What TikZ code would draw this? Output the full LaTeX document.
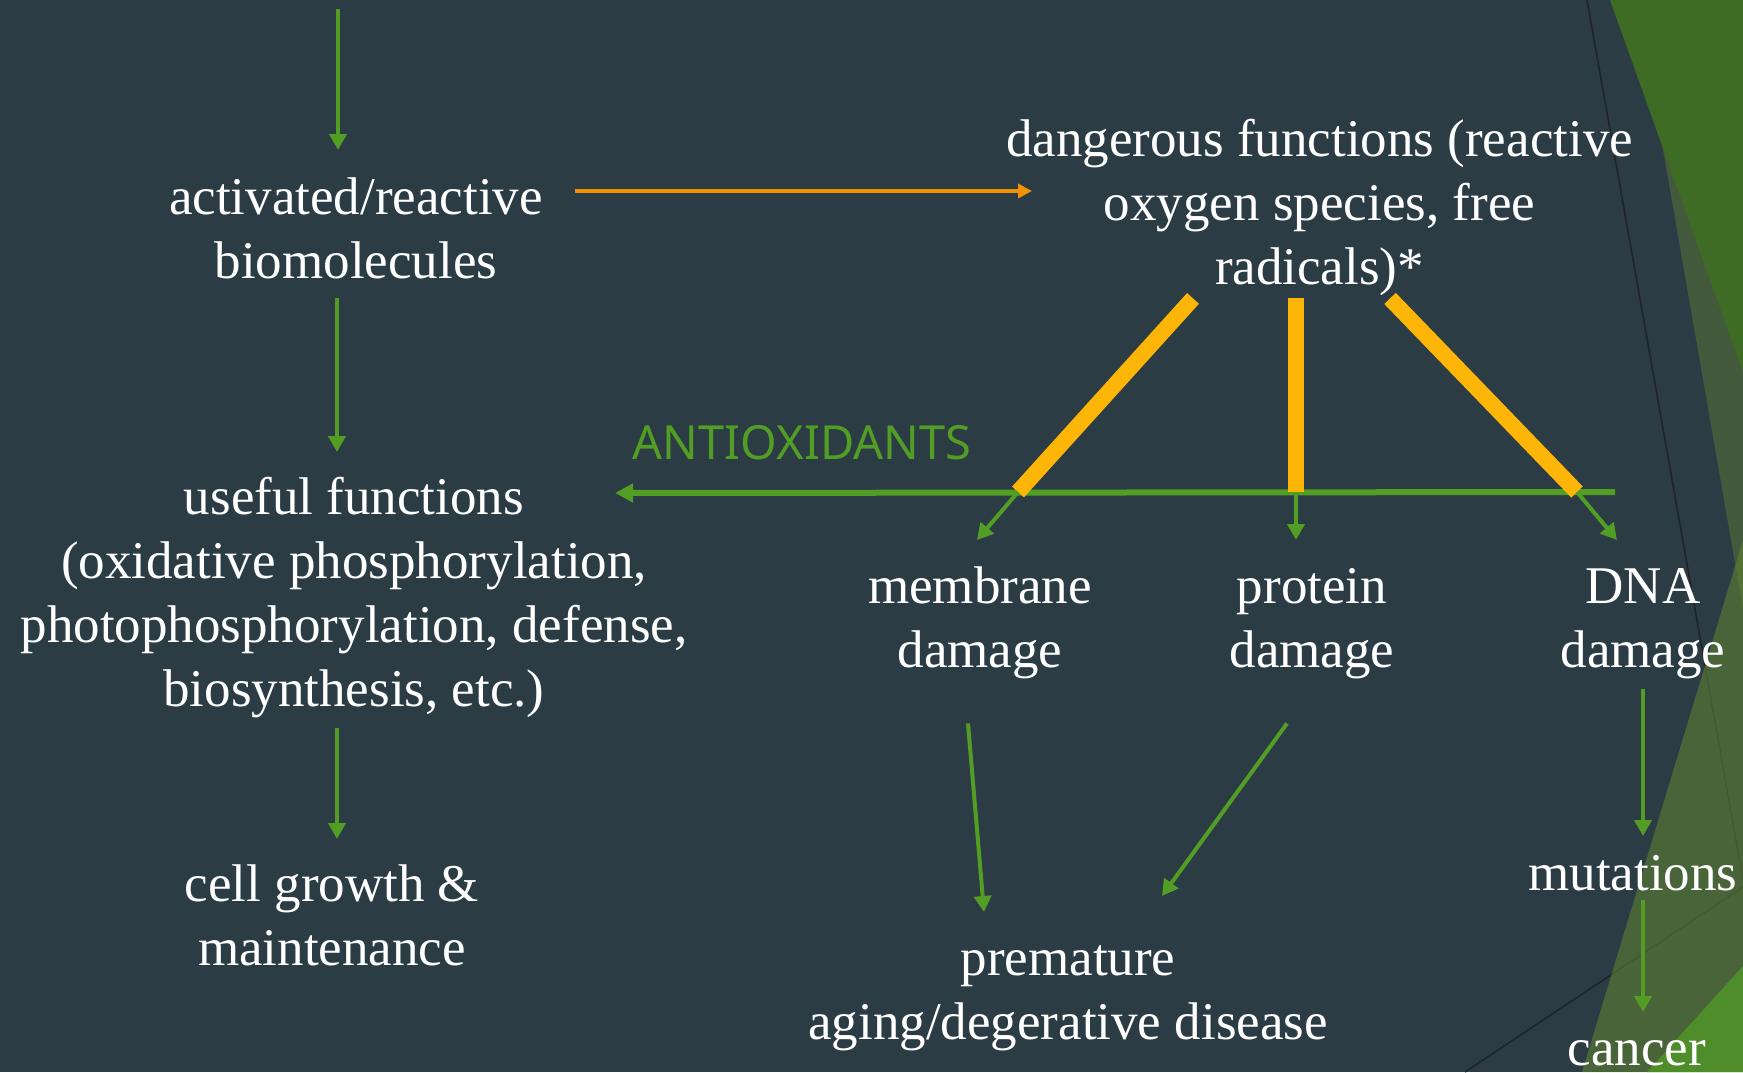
\documentclass[tikz,border=0pt]{standalone}
\usepackage{fontspec}
\setmainfont{Liberation Serif}
\newfontfamily\antifont{Noto Sans}
\usetikzlibrary{arrows.meta,calc}
\definecolor{bg}{RGB}{44,60,69}
\definecolor{gr}{RGB}{82,158,36}
\definecolor{ye}{RGB}{253,181,8}
\definecolor{orng}{RGB}{243,146,0}
\definecolor{dgreen}{RGB}{62,108,37}
\definecolor{oliveA}{RGB}{85,110,57}
\definecolor{oliveB}{RGB}{93,127,49}
\definecolor{bgreen}{RGB}{79,141,42}
\definecolor{thinline}{RGB}{31,35,39}
\begin{document}
\begin{tikzpicture}[x=1pt,y=-1pt,
  lbl/.style={text=white,font=\fontsize{53}{64}\selectfont,align=center,inner sep=0pt,anchor=north},
  garrow/.style={draw=gr,line width=4pt,-{Triangle[length=16pt,width=17pt]}},
  oarrow/.style={draw=orng,line width=4pt,-{Triangle[length=14pt,width=14pt]}},
  ybar/.style={draw=ye,line width=16pt},
  antiline/.style={draw=gr,line width=6pt,-{Triangle[length=18pt,width=18pt]}},
  thin/.style={draw=thinline,line width=1.5pt}]
\useasboundingbox (0,0) rectangle (1743,1072);
\fill[bg] (0,0) rectangle (1743,1072);
% background decoration
\draw[thin] (1587,0) -- (1743,880);
\draw[thin] (1743,887) -- (1465,1072);
\fill[oliveA,opacity=0.6] (1637,0) -- (1743,0) -- (1743,609) -- cycle;
\fill[oliveB,opacity=0.6] (1743,540) -- (1743,1072) -- (1582,1072) -- cycle;
\fill[dgreen] (1610,0) -- (1743,0) -- (1743,372) -- cycle;
\fill[bgreen] (1743,966) -- (1743,1072) -- (1647,1072) -- cycle;
% nodes
\node[lbl] (A) at (356,169) {\strut activated/reactive\\biomolecules\strut};
\node[lbl] (B) at (1319.5,111) {\strut dangerous functions (reactive\\oxygen species, free\\radicals)*\strut};
\node[lbl] (C) at (354,469) {\strut useful functions\\(oxidative phosphorylation,\\photophosphorylation, defense,\\biosynthesis, etc.)\strut};
\node[lbl] (D) at (332,856) {\strut cell growth \&\\maintenance\strut};
\node[lbl] (E) at (980,558) {\strut membrane\\damage\strut};
\node[lbl] (F) at (1312,558) {\strut protein\\damage\strut};
\node[lbl] (G) at (1643,558) {\strut DNA\\damage\strut};
\node[lbl] (H) at (1068,930) {\strut premature\\aging/degerative disease\strut};
\node[lbl] (I) at (1633,845) {\strut mutations\strut};
\node[lbl] (J) at (1637,1020) {\strut cancer\strut};
\node[text=gr,font=\antifont\fontsize{47}{56}\selectfont,inner sep=0pt,anchor=base] (K) at (802,459) {ANTIOXIDANTS};
% coordinates
\coordinate (top) at (338,9);
\coordinate (lineR) at (1615,492);
\coordinate (j1) at (1018,492);
\coordinate (j2) at (1296,492);
\coordinate (j3) at (1577,492);
% connectors
\draw[garrow] (top) -- ($(A.north)+(-18,-19)$);
\draw[garrow] ($(A.south)+(-19,1)$) -- ($(C.north)+(-17,-17)$);
\draw[garrow] ($(C.south)+(-17,3)$) -- ($(D.north)+(5,-17)$);
\draw[oarrow] ($(A.north)+(219,22)$) -- ($(B.north)+(-287.5,80)$);
\draw[antiline] (lineR) -- ($(C.north)+(261,24)$);
\draw[ybar] ($(B.south)+(-126.5,-5)$) -- (j1);
\draw[ybar] ($(B.south)+(-23.5,-5)$) -- (j2);
\draw[ybar] ($(B.south)+(70.5,-5)$) -- (j3);
\draw[garrow] (j1) -- ($(E.north)+(-3,-18)$);
\draw[garrow] (j2) -- ($(F.north)+(-16,-18)$);
\draw[garrow] (j3) -- ($(G.north)+(-26,-18)$);
\draw[garrow] ($(E.south)+(-12,37)$) -- ($(H.north)+(-84,-18)$);
\draw[garrow] ($(F.south)+(-25,37)$) -- ($(H.north)+(94,-34)$);
\draw[garrow] ($(G.south)+(0,3)$) -- ($(I.north)+(10,-9)$);
\draw[garrow] ($(I.south)+(10,-9)$) -- ($(J.north)+(6,-8)$);
\end{tikzpicture}
\end{document}
